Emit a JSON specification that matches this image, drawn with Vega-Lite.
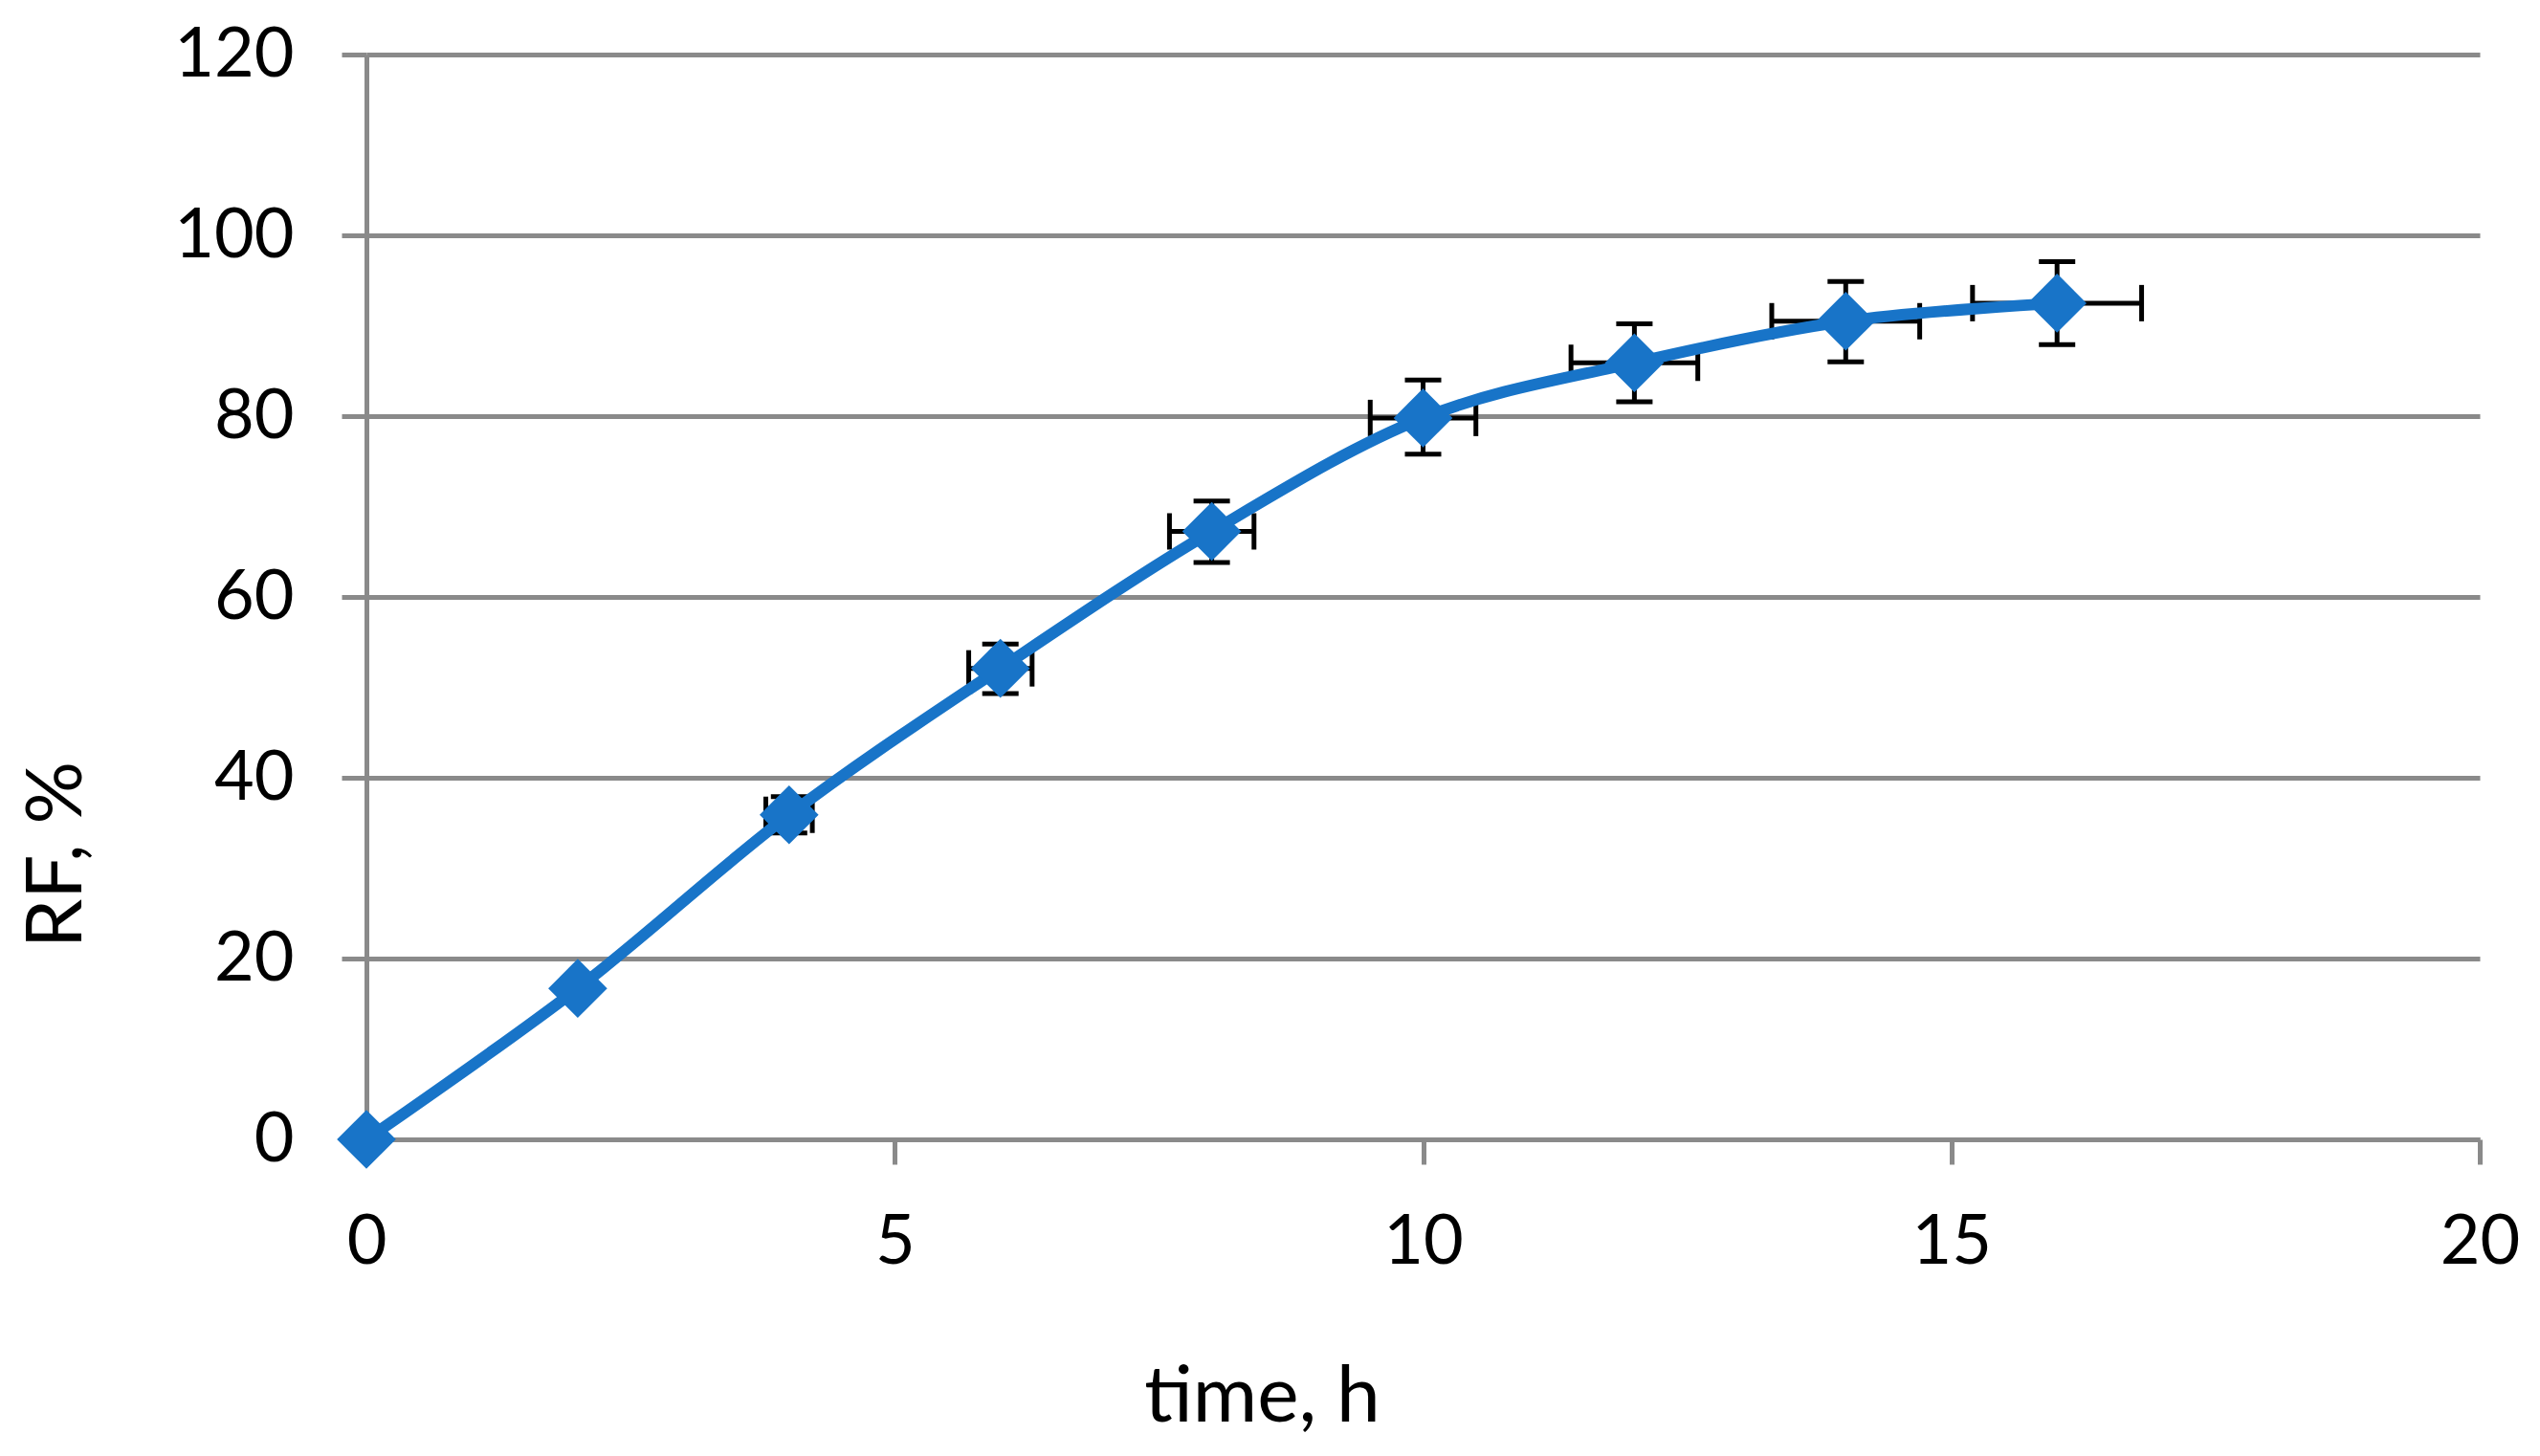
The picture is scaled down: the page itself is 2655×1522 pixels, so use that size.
{
  "$schema": "https://vega.github.io/schema/vega-lite/v6.json",
  "width": 2209,
  "height": 1134,
  "autosize": {"type": "none"},
  "padding": {"left": 383, "top": 57, "right": 63, "bottom": 331},
  "background": "white",
  "config": {
    "view": {"stroke": null},
    "font": "Lato",
    "axis": {
      "labelFont": "Lato",
      "titleFont": "Lato",
      "labelColor": "black",
      "titleColor": "black",
      "labelFontSize": 72,
      "titleFontSize": 82,
      "titleFontWeight": "normal",
      "domainColor": "#8a8a8a",
      "domainWidth": 5,
      "tickColor": "#8a8a8a",
      "tickWidth": 5,
      "tickSize": 26,
      "gridColor": "#8a8a8a",
      "gridWidth": 5,
      "labelFlush": false,
      "labelOverlap": false
    },
    "axisX": {
      "grid": false,
      "labelPadding": 46,
      "titleAlign": "center",
      "titleBaseline": "alphabetic",
      "titleX": 936,
      "titleY": 294
    },
    "axisY": {
      "grid": true,
      "labelPadding": 50,
      "titleAngle": -90,
      "titleAlign": "center",
      "titleBaseline": "middle",
      "titleX": -324,
      "titleY": 836
    }
  },
  "datasets": {
    "points": [
      {"t": 0, "rf": 0},
      {"t": 2, "rf": 16.7},
      {"t": 4, "rf": 35.9},
      {"t": 6, "rf": 52.1},
      {"t": 8, "rf": 67.25},
      {"t": 10, "rf": 79.8},
      {"t": 12, "rf": 85.9},
      {"t": 14, "rf": 90.5},
      {"t": 16, "rf": 92.5}
    ],
    "errors": [
      {"t": 4, "rf": 35.9, "rf_lo": 33.9, "rf_hi": 37.9, "t_lo": 3.78, "t_hi": 4.22},
      {"t": 6, "rf": 52.1, "rf_lo": 49.3, "rf_hi": 54.8, "t_lo": 5.7, "t_hi": 6.3},
      {"t": 8, "rf": 67.25, "rf_lo": 63.8, "rf_hi": 70.6, "t_lo": 7.6, "t_hi": 8.4},
      {"t": 10, "rf": 79.8, "rf_lo": 75.8, "rf_hi": 84.0, "t_lo": 9.5, "t_hi": 10.5},
      {"t": 12, "rf": 85.9, "rf_lo": 81.6, "rf_hi": 90.2, "t_lo": 11.4, "t_hi": 12.6},
      {"t": 14, "rf": 90.5, "rf_lo": 86.0, "rf_hi": 94.9, "t_lo": 13.3, "t_hi": 14.7},
      {"t": 16, "rf": 92.5, "rf_lo": 87.9, "rf_hi": 97.1, "t_lo": 15.2, "t_hi": 16.8}
    ]
  },
  "layer": [
    {
      "data": {"name": "errors"},
      "mark": {"type": "rule", "color": "black", "strokeWidth": 5},
      "encoding": {
        "x": {"field": "t", "type": "quantitative", "scale": {"domain": [0, 20], "nice": false, "zero": false}, "axis": {"values": [0, 5, 10, 15, 20], "format": "d"}, "title": "time, h"},
        "y": {"field": "rf_lo", "type": "quantitative", "scale": {"domain": [0, 120], "nice": false}, "axis": {"values": [0, 20, 40, 60, 80, 100, 120], "format": "d"}, "title": "RF, %"},
        "y2": {"field": "rf_hi"}
      }
    },
    {
      "data": {"name": "errors"},
      "mark": {"type": "rule", "color": "black", "strokeWidth": 5},
      "encoding": {
        "x": {"field": "t_lo", "type": "quantitative", "title": "time, h"},
        "x2": {"field": "t_hi"},
        "y": {"field": "rf", "type": "quantitative", "title": "RF, %"}
      }
    },
    {
      "data": {"name": "errors"},
      "mark": {"type": "tick", "orient": "horizontal", "color": "black", "thickness": 5, "size": 38, "opacity": 1},
      "encoding": {
        "x": {"field": "t", "type": "quantitative", "title": "time, h"},
        "y": {"field": "rf_lo", "type": "quantitative", "title": "RF, %"}
      }
    },
    {
      "data": {"name": "errors"},
      "mark": {"type": "tick", "orient": "horizontal", "color": "black", "thickness": 5, "size": 38, "opacity": 1},
      "encoding": {
        "x": {"field": "t", "type": "quantitative", "title": "time, h"},
        "y": {"field": "rf_hi", "type": "quantitative", "title": "RF, %"}
      }
    },
    {
      "data": {"name": "errors"},
      "mark": {"type": "tick", "orient": "vertical", "color": "black", "thickness": 5, "size": 38, "opacity": 1},
      "encoding": {
        "x": {"field": "t_lo", "type": "quantitative", "title": "time, h"},
        "y": {"field": "rf", "type": "quantitative", "title": "RF, %"}
      }
    },
    {
      "data": {"name": "errors"},
      "mark": {"type": "tick", "orient": "vertical", "color": "black", "thickness": 5, "size": 38, "opacity": 1},
      "encoding": {
        "x": {"field": "t_hi", "type": "quantitative", "title": "time, h"},
        "y": {"field": "rf", "type": "quantitative", "title": "RF, %"}
      }
    },
    {
      "data": {"name": "points"},
      "mark": {"type": "line", "interpolate": "cardinal", "color": "#1874c8", "strokeWidth": 12},
      "encoding": {
        "x": {"field": "t", "type": "quantitative", "title": "time, h"},
        "y": {"field": "rf", "type": "quantitative", "title": "RF, %"}
      }
    },
    {
      "data": {"name": "points"},
      "mark": {"type": "point", "shape": "diamond", "filled": true, "color": "#1874c8", "size": 3800, "opacity": 1},
      "encoding": {
        "x": {"field": "t", "type": "quantitative", "title": "time, h"},
        "y": {"field": "rf", "type": "quantitative", "title": "RF, %"}
      }
    }
  ]
}
